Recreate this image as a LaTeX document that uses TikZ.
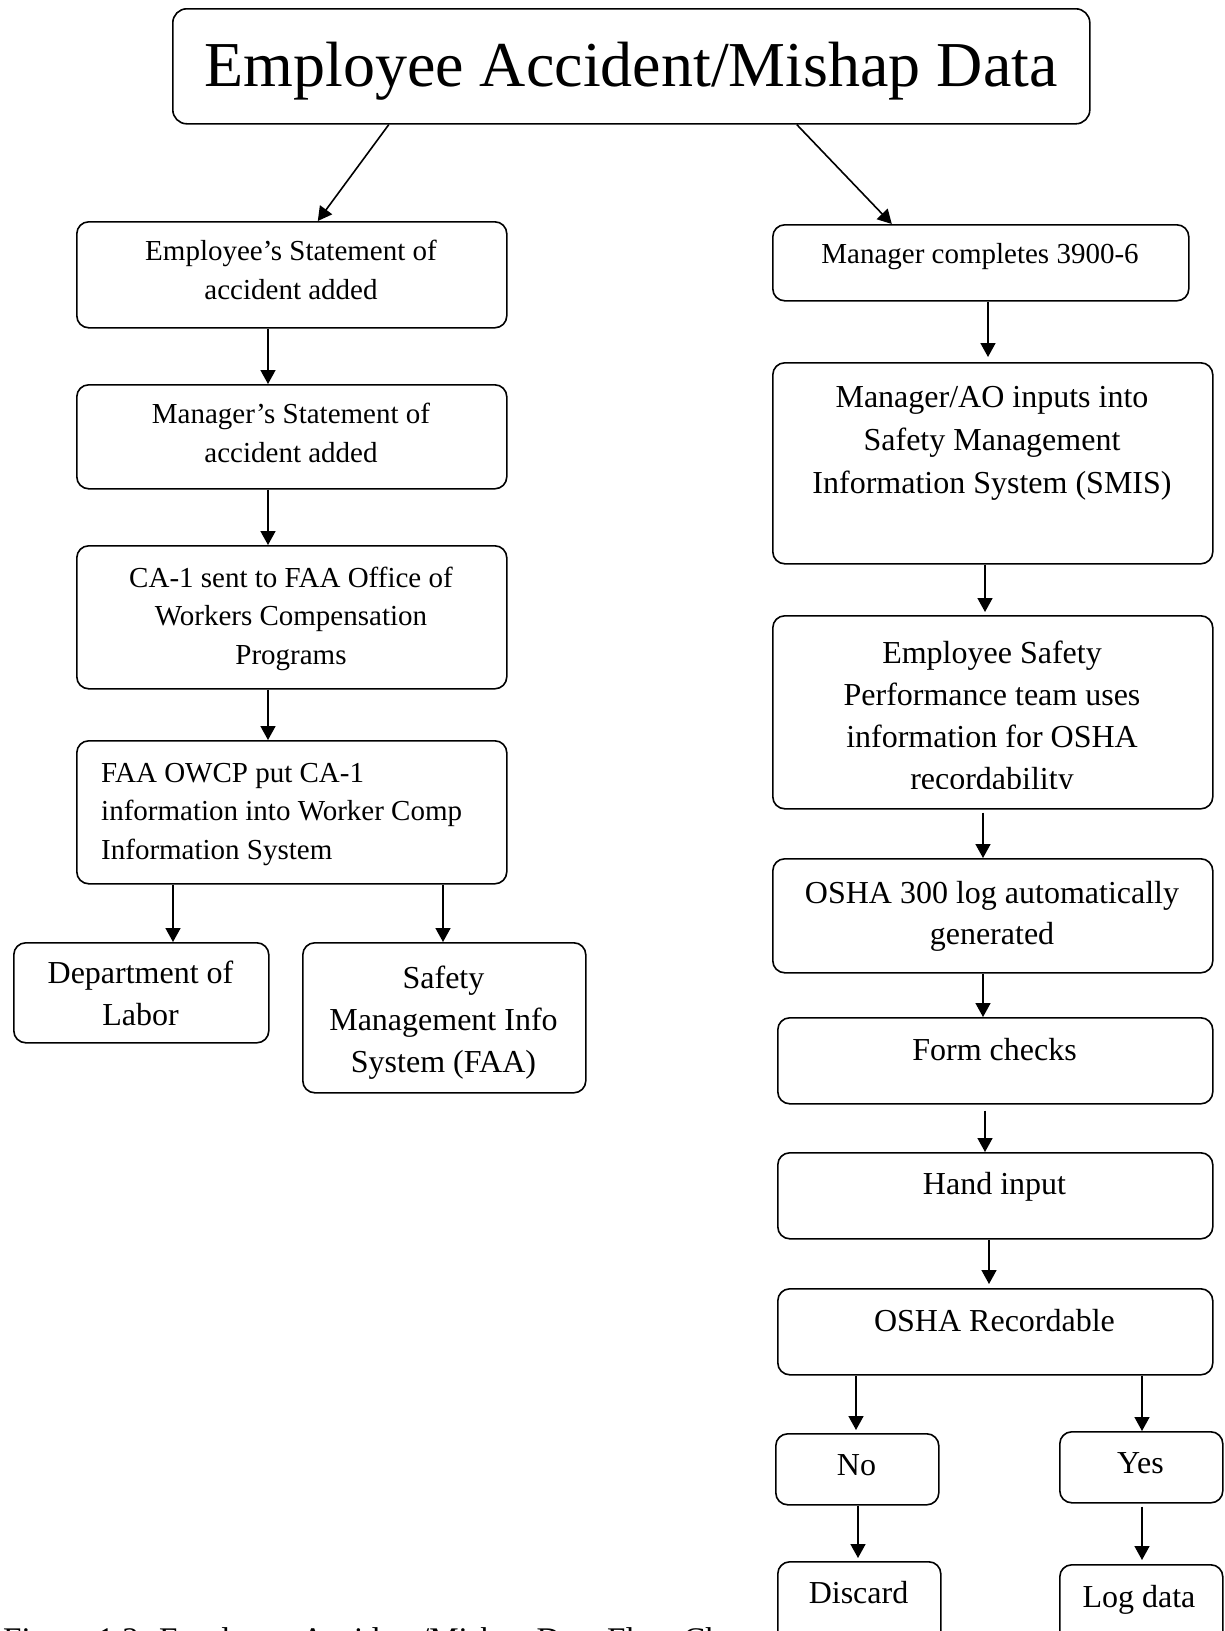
\documentclass[tikz,border=0pt]{standalone}
\usepackage{fontspec}
\setmainfont{Liberation Serif}
\usetikzlibrary{arrows.meta}
\begin{document}
\begin{tikzpicture}[x=1pt,y=-1pt,
  box/.style={draw, line width=1.6pt, rounded corners=12pt, inner sep=0pt, anchor=north west},
  tA/.style={font=\fontsize{29}{38.5}\selectfont, align=center, anchor=base, inner sep=0pt},
  tB/.style={font=\fontsize{32}{42}\selectfont, align=center, anchor=base, inner sep=0pt},
  arr/.style={line width=1.6pt, -{Triangle[width=15pt,length=14pt]}}]
\useasboundingbox (0,0) rectangle (1225,1631);
\fill[white] (0,0) rectangle (1225,1631);
\clip (0,0) rectangle (1225,1631);

% title
\node[box, minimum width=917pt, minimum height=115pt, rounded corners=14pt] (title) at (172,8) {};
\node[font=\fontsize{64}{77}\selectfont, anchor=base, inner sep=0pt] (titlet) at (631,86) {Employee Accident/Mishap Data};

% left column (anchor base = baseline of the last line)
\node[box, minimum width=430pt, minimum height=106pt] (e1) at (76,221) {};
\node[tA] (e1t) at (291,299) {Employee’s Statement of\\accident added};
\node[box, minimum width=430pt, minimum height=104pt] (e2) at (76,384) {};
\node[tA] (e2t) at (291,462) {Manager’s Statement of\\accident added};
\node[box, minimum width=430pt, minimum height=143pt] (e3) at (76,545) {};
\node[tA] (e3t) at (291,664) {CA-1 sent to FAA Office of\\Workers Compensation\\Programs};
\node[box, minimum width=430pt, minimum height=143pt] (e4) at (76,740) {};
\node[tA, align=left, anchor=base west] (e4t) at (101,859) {FAA OWCP put CA-1\\information into Worker Comp\\Information System};
\node[box, minimum width=255pt, minimum height=100pt] (dol) at (13,942) {};
\node[tB] (dolt) at (140.5,1025) {Department of\\Labor};
\node[box, minimum width=283pt, minimum height=150pt] (smi) at (302,942) {};
\node[tB] (smit) at (443.5,1072) {Safety\\Management Info\\System (FAA)};

% right column
\node[box, minimum width=416pt, minimum height=76pt] (r1) at (772,224) {};
\node[tA] (r1t) at (980,263) {Manager completes 3900-6};
\node[box, minimum width=440pt, minimum height=201pt] (r2) at (772,362) {};
\node[tB, font=\fontsize{32}{43}\selectfont] (r2t) at (992,493) {Manager/AO inputs into\\Safety Management\\Information System (SMIS)};
\node[box, minimum width=440pt, minimum height=193pt] (r3) at (772,615) {};
\begin{scope}
\clip (772,615) rectangle (1212,788);
\node[tB] (r3t) at (992,789) {Employee Safety\\Performance team uses\\information for OSHA\\recordability};
\end{scope}
\node[box, minimum width=440pt, minimum height=114pt] (r4) at (772,858) {};
\node[tB, font=\fontsize{32}{41}\selectfont] (r4t) at (992,944) {OSHA 300 log automatically\\generated};
\node[box, minimum width=435pt, minimum height=86pt] (r5) at (777,1017) {};
\node[tB] (r5t) at (994.5,1060) {Form checks};
\node[box, minimum width=435pt, minimum height=86pt] (r6) at (777,1152) {};
\node[tB] (r6t) at (994.5,1194) {Hand input};
\node[box, minimum width=435pt, minimum height=86pt] (r7) at (777,1288) {};
\node[tB] (r7t) at (994.5,1331) {OSHA Recordable};
\node[box, minimum width=163pt, minimum height=71pt] (no) at (775,1433) {};
\node[tB] (not) at (856.5,1475) {No};
\node[box, minimum width=163pt, minimum height=71pt] (yes) at (1059,1431) {};
\node[tB] (yest) at (1140.5,1473) {Yes};
\node[box, minimum width=163pt, minimum height=119pt] (dis) at (777,1561) {};
\node[tB] (dist) at (858.5,1603) {Discard};
\node[box, minimum width=163pt, minimum height=116pt] (log) at (1059,1564) {};
\node[tB] (logt) at (1139,1607) {Log data};

% caption (cut by the lower edge, as in the reference)
\node[font=\fontsize{33}{40}\selectfont, anchor=base west, inner sep=0pt] (cap) at (3,1650) {Figure 1.2: Employee Accident/Mishap Data Flow Chart};

% connectors
\draw[arr] ([xshift=-242.5pt]title.south) -- ([xshift=26pt]e1.north);
\draw[arr] ([xshift=165.5pt]title.south) -- ([xshift=-89pt]r1.north);
\draw[arr] (e1.south -| 268,0) -- (e2.north -| 268,0);
\draw[arr] (e2.south -| 268,0) -- (e3.north -| 268,0);
\draw[arr] (e3.south -| 268,0) -- (e4.north -| 268,0);
\draw[arr] (e4.south -| 173,0) -- (dol.north -| 173,0);
\draw[arr] (e4.south -| 443,0) -- (smi.north -| 443,0);
\draw[arr, shorten >=5pt] (r1.south -| 988,0) -- (r2.north -| 988,0);
\draw[arr, shorten >=3pt] (r2.south -| 985,0) -- (r3.north -| 985,0);
\draw[arr, shorten <=3pt] (r3.south -| 983,0) -- (r4.north -| 983,0);
\draw[arr] (r4.south -| 983,0) -- (r5.north -| 983,0);
\draw[arr, shorten <=6pt] (r5.south -| 985,0) -- (r6.north -| 985,0);
\draw[arr, shorten >=4pt] (r6.south -| 989,0) -- (r7.north -| 989,0);
\draw[arr, shorten >=3pt] (r7.south -| 856,0) -- (no.north -| 856,0);
\draw[arr] (r7.south -| 1142,0) -- (yes.north -| 1142,0);
\draw[arr, shorten >=3pt] (no.south -| 858,0) -- (dis.north -| 858,0);
\draw[arr, shorten <=3pt, shorten >=4pt] (yes.south -| 1142,0) -- (log.north -| 1142,0);
\end{tikzpicture}
\end{document}
